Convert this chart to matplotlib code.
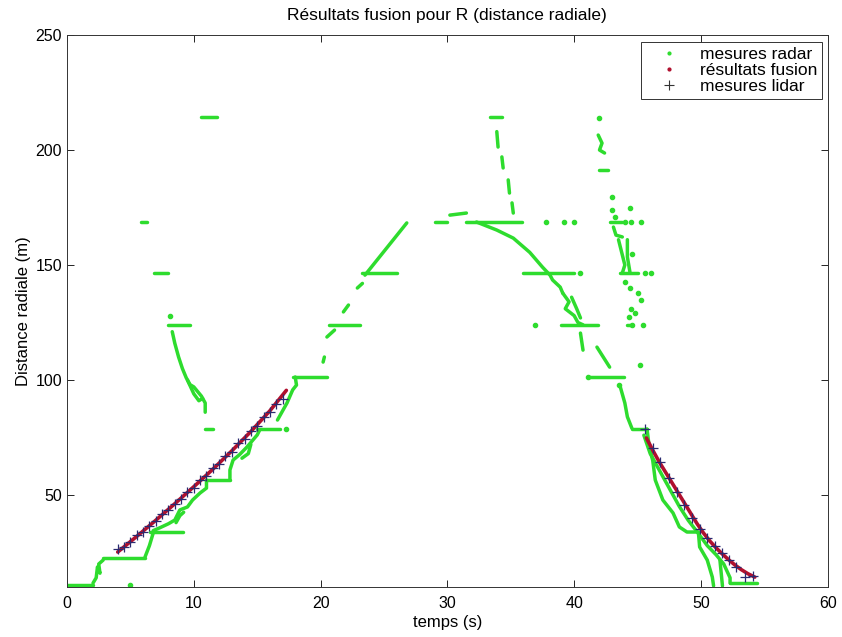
import matplotlib
matplotlib.use('Agg')
import matplotlib.pyplot as plt
from matplotlib.lines import Line2D

plt.rcParams['font.family'] = ['Liberation Sans', 'DejaVu Sans']

GREEN = '#2edc2e'
RED = '#b0102e'
BLUE = '#2a2a70'

# radar: horizontal runs at a quantized range (m), from t0 to t1 (s)
step_r = [10.9, 22.6, 33.9, 56.5, 78.7, 78.7, 101.3, 124.0, 124.0, 146.5, 146.5, 168.7,
          214.3, 168.7, 168.7, 214.3, 146.5, 124.0, 101.3, 78.7, 168.7, 146.5, 124.0, 11.7]
step_t0 = [0.0, 2.85, 6.55, 11.0, 15.0, 10.9, 17.8, 8.0, 20.7, 6.9, 23.3, 5.8,
           10.6, 29.0, 31.5, 33.4, 36.0, 39.0, 41.2, 44.55, 42.8, 43.6, 44.2, 52.3]
step_t1 = [2.05, 6.15, 9.15, 12.85, 16.8, 11.5, 20.5, 9.7, 23.1, 8.0, 26.0, 6.3,
           11.8, 30.0, 35.9, 34.3, 40.0, 41.9, 43.9, 45.75, 43.8, 45.0, 44.5, 54.4]

# radar: continuous tracks (t, r)
left_climb = [
    [(2.05, 11.7), (2.3, 14.0), (2.4, 18.7), (2.6, 16.0), (2.5, 20.0), (2.85, 21.7)],
    [(6.15, 23.0), (6.5, 28.0), (6.8, 33.5)],
    [(6.8, 34.5), (7.3, 35.7), (8.0, 37.5), (8.5, 39.1), (8.9, 43.5), (9.5, 44.8),
     (9.9, 47.8), (10.5, 50.9), (11.0, 53.0), (11.0, 56.5)],
    [(8.6, 38.0), (8.9, 41.0), (9.2, 42.5)],
    [(12.85, 56.5), (12.85, 60.9), (13.1, 65.2), (13.6, 67.5), (14.2, 70.9),
     (15.0, 76.1), (15.2, 78.3)],
    [(13.8, 66.0), (14.3, 68.0), (14.5, 72.0)],
    [(16.6, 82.6), (17.35, 90.0), (17.8, 95.7), (18.1, 97.8), (18.0, 101.3)],
]
left_streak = [
    [(8.3, 121.0), (8.5, 116.0), (8.8, 110.0), (9.1, 105.0), (9.4, 101.0),
     (9.7, 98.0), (10.0, 97.0), (10.3, 95.0), (10.6, 93.0), (10.9, 90.0), (10.9, 86.0)],
    [(9.5, 100.0), (10.0, 94.0), (10.4, 91.0), (10.7, 92.0)],
]
arch_rise = [
    [(20.2, 107.8), (20.3, 110.0)],
    [(20.5, 118.7), (21.1, 121.7)],
    [(21.8, 129.6), (22.2, 132.6)],
    [(22.9, 140.0), (23.3, 142.0)],
    [(23.5, 145.6), (26.8, 168.3)],
]
arch_top = [
    [(30.2, 171.7), (31.5, 172.6)],
    [(33.9, 208.0), (34.0, 201.3)],
    [(34.3, 197.0), (34.4, 192.2)],
    [(34.8, 187.0), (34.9, 181.3)],
    [(35.1, 177.0), (35.2, 172.6)],
]
arch_fall = [
    [(32.3, 168.7), (33.9, 165.2), (35.2, 161.7), (36.5, 155.5), (37.5, 149.1),
     (38.1, 145.6), (38.3, 143.5), (38.9, 140.4), (39.1, 137.8)],
    [(39.1, 137.8), (39.6, 134.0), (39.3, 131.0), (40.0, 128.0), (40.3, 125.0), (40.7, 124.0)],
    [(39.8, 136.0), (40.2, 131.0), (40.5, 127.0)],
    [(40.5, 120.4), (40.7, 113.0)],
    [(41.8, 114.3), (42.8, 105.6)],
]
right_streak = [
    [(41.9, 206.5), (42.2, 203.0), (42.0, 200.0), (42.4, 198.7)],
    [(42.0, 191.3), (42.7, 191.3)],
    [(43.1, 166.5), (43.3, 163.0), (43.8, 162.2)],
    [(43.5, 161.0), (44.0, 150.0), (43.8, 146.5)],
    [(44.2, 161.0), (44.2, 153.5), (44.4, 147.0)],
]
right_descent = [
    [(43.6, 97.8), (44.0, 90.0), (44.2, 84.0), (44.55, 79.1)],
    [(45.75, 78.7), (45.9, 72.0), (46.2, 65.0), (46.4, 56.5), (47.0, 47.8), (47.8, 42.2),
     (48.3, 36.1), (48.9, 33.9), (49.8, 33.9), (49.9, 27.4), (50.5, 21.7), (50.9, 14.3),
     (51.0, 10.5)],
    [(45.5, 76.0), (46.0, 68.0), (46.8, 60.0), (47.5, 53.0), (48.3, 45.0), (49.0, 39.0),
     (49.7, 34.0), (50.5, 28.0), (51.2, 24.0), (51.8, 20.0), (52.3, 14.0), (52.3, 11.7)],
    [(51.5, 21.7), (51.7, 10.5)],
]
radar_dots = [(17.3, 78.7), (5.0, 10.9), (8.1, 128.0), (37.8, 168.7), (39.2, 168.7),
              (40.0, 168.7), (36.9, 124.0), (40.5, 146.5), (41.1, 101.3), (42.0, 213.9),
              (43.0, 179.6), (43.0, 173.9), (44.4, 174.8), (43.2, 170.9), (44.0, 168.7),
              (44.5, 168.7), (45.3, 168.7), (44.6, 155.0), (45.6, 146.5), (46.1, 146.5),
              (45.4, 124.0), (45.2, 106.5), (43.5, 97.8), (44.0, 142.6), (44.4, 140.0),
              (45.0, 138.0), (45.3, 134.8), (44.5, 131.0), (44.3, 127.4), (44.8, 129.0),
              (44.6, 124.0)]

# fusion results
fusion_left_t = [4.0, 5.5, 7.0, 8.5, 10.0, 11.5, 13.0, 14.5, 16.0, 17.3]
fusion_left_r = [25.2, 32.0, 39.0, 46.2, 53.6, 61.2, 69.2, 77.6, 86.6, 95.5]
fusion_right_t = [45.7, 46.2, 46.7, 47.2, 47.7, 48.2, 48.7, 49.2, 49.7, 50.2, 50.7,
                  51.2, 51.7, 52.2, 52.7, 53.2, 53.7, 54.25]
fusion_right_r = [74.8, 69.5, 64.5, 60.0, 55.5, 51.0, 46.5, 42.0, 37.5, 33.5, 30.0,
                  27.0, 24.3, 21.8, 19.5, 17.5, 15.8, 14.3]

# lidar measurements
lidar_left_t = [4.0, 4.5, 5.0, 5.5, 6.0, 6.5, 7.0, 7.5, 8.0, 8.5, 9.0, 9.5, 10.0, 10.5,
                11.0, 11.5, 12.0, 12.5, 13.0, 13.5, 14.0, 14.5, 15.0, 15.5, 16.0, 16.5, 17.0]
lidar_left_r = [26.5, 27.2, 29.6, 32.5, 34.0, 36.5, 38.6, 41.8, 43.3, 46.0, 48.2, 51.5,
                53.0, 56.4, 58.2, 61.7, 63.4, 67.0, 68.8, 72.4, 74.2, 78.0, 80.0, 83.8,
                85.9, 89.7, 91.8]
lidar_right_t = [45.6, 46.2, 46.8, 47.5, 48.1, 48.7, 49.3, 49.9, 50.5, 51.1, 51.7, 52.2,
                 52.8, 53.5, 54.1]
lidar_right_r = [78.7, 70.4, 64.3, 57.4, 51.3, 45.7, 39.8, 35.2, 31.5, 27.8, 24.8, 21.7,
                 18.5, 14.3, 14.8]

fig = plt.figure(figsize=(8.42, 6.37), dpi=100)
ax = fig.add_axes([0.0796, 0.0785, 0.9034, 0.8665])

for r, t0, t1 in zip(step_r, step_t0, step_t1):
    ax.plot([t0, t1], [r, r], color=GREEN, lw=2.5, solid_capstyle='round', zorder=2)

for group in [left_climb, left_streak, arch_rise, arch_top, arch_fall, right_streak, right_descent]:
    for track in group:
        ts = [p[0] for p in track]
        rs = [p[1] for p in track]
        ax.plot(ts, rs, color=GREEN, lw=2.5, solid_capstyle='round',
                solid_joinstyle='round', zorder=2)

ax.plot([p[0] for p in radar_dots], [p[1] for p in radar_dots], ls='none',
        marker='o', ms=3.0, color=GREEN, zorder=2)

ax.plot(fusion_left_t, fusion_left_r, color=RED, lw=2.6, solid_capstyle='round', zorder=3)
ax.plot(fusion_right_t, fusion_right_r, color=RED, lw=2.6, solid_capstyle='round', zorder=3)

ax.plot(lidar_left_t, lidar_left_r, ls='none', marker='+', ms=7, mew=0.9, color=BLUE, zorder=4)
ax.plot(lidar_right_t, lidar_right_r, ls='none', marker='+', ms=7, mew=0.9, color=BLUE, zorder=4)

ax.set_xlim(0, 60)
ax.set_ylim(10, 250)
ax.set_xticks([0, 10, 20, 30, 40, 50, 60])
ax.set_yticks([50, 100, 150, 200, 250])
ax.tick_params(direction='in', length=5, width=0.6, top=True, right=True, labelsize=11.5)
ax.tick_params(axis='x', pad=6.5)
for s in ax.spines.values():
    s.set_linewidth(0.7)
    s.set_color('#333333')

ax.set_title('Résultats fusion pour R (distance radiale)', fontsize=12.5, pad=10.5)
ax.set_xlabel('temps (s)', fontsize=12, labelpad=3)
ax.set_ylabel('Distance radiale (m)', fontsize=12, labelpad=3)

handles = [
    Line2D([], [], ls='none', marker='.', ms=4, color=GREEN),
    Line2D([], [], ls='none', marker='.', ms=4, color=RED),
    Line2D([], [], ls='none', marker='+', ms=7, mew=0.8, color='#333333'),
]
leg = ax.legend(handles, ['mesures radar', 'résultats fusion', 'mesures lidar'],
                loc='upper right', bbox_to_anchor=(0.993, 0.988), borderaxespad=0,
                fancybox=False, edgecolor='#333333', framealpha=1, fontsize=12.5,
                labelspacing=0.05, handlelength=2.6, handletextpad=0.5, borderpad=0.3)
leg.get_frame().set_linewidth(0.7)

fig.savefig('out.png', dpi=100)
